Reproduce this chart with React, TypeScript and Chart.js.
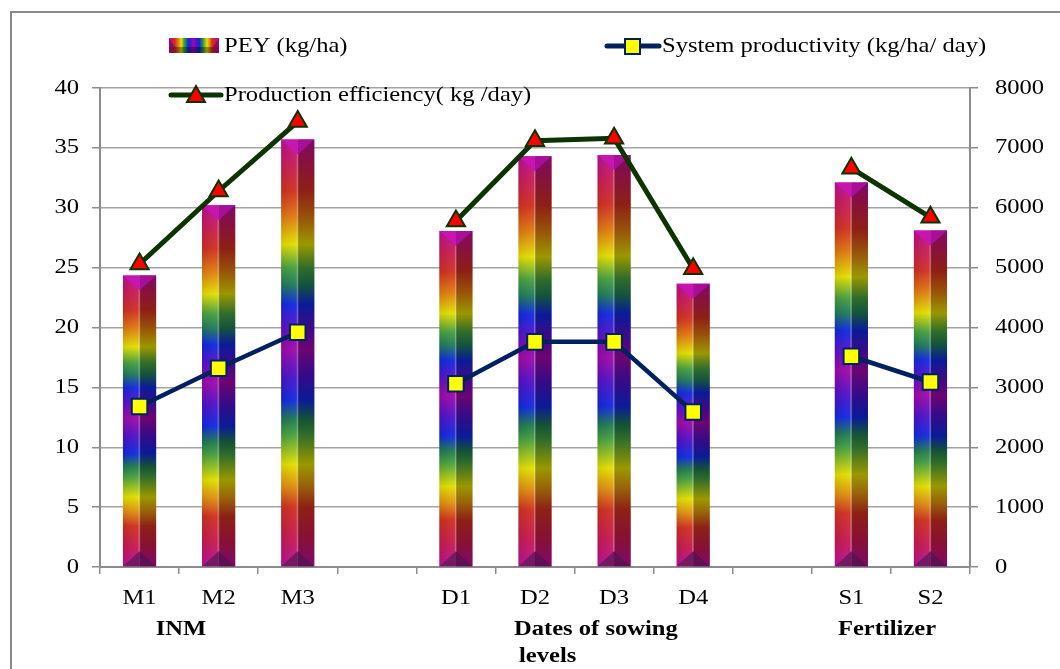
import { useEffect, useRef } from 'react';
import { Chart, registerables } from 'chart.js';

Chart.register(...registerables);

const categories = ['M1', 'M2', 'M3', '', 'D1', 'D2', 'D3', 'D4', '', 'S1', 'S2'];
const peyValues = [4870, 6040, 7140, null, 5610, 6860, 6880, 4730, null, 6420, 5620];
const systemProductivity = [13.4, 16.6, 19.6, null, 15.3, 18.8, 18.8, 12.95, null, 17.6, 15.45];
const productionEfficiency = [25.3, 31.4, 37.2, null, 28.9, 35.6, 35.8, 24.9, null, 33.3, 29.2];
const groupLabels = ['INM', 'Dates of sowing', 'levels', 'Fertilizer'];
const seriesNames = ['PEY (kg/ha)', 'System productivity (kg/ha/ day)', 'Production efficiency( kg /day)'];

const FONT = '"Liberation Serif", "Times New Roman", serif';
const SX = 1.17;

const rainbowStops: [number, string][] = [
  [0.0, '#b8109c'],
  [0.05, '#c81860'],
  [0.12, '#d03020'],
  [0.18, '#e07810'],
  [0.245, '#e4e000'],
  [0.3, '#48a040'],
  [0.34, '#1f7a5c'],
  [0.385, '#1028e0'],
  [0.44, '#5a10c8'],
  [0.49, '#a008a8'],
  [0.55, '#5010c8'],
  [0.61, '#1028e0'],
  [0.655, '#1f7a50'],
  [0.69, '#48a040'],
  [0.76, '#e4e000'],
  [0.81, '#e09010'],
  [0.86, '#d03020'],
  [0.93, '#c81850'],
  [1.0, '#b8109c'],
];

function drawText(
  ctx: CanvasRenderingContext2D,
  text: string,
  x: number,
  y: number,
  align: 'left' | 'right' | 'center',
  font: string
) {
  ctx.save();
  ctx.font = font;
  ctx.textBaseline = 'middle';
  ctx.textAlign = 'left';
  ctx.fillStyle = '#000';
  const w = ctx.measureText(text).width * SX;
  const left = align === 'left' ? x : align === 'right' ? x - w : x - w / 2;
  ctx.translate(left, y);
  ctx.scale(SX, 1);
  ctx.fillText(text, 0, 0);
  ctx.restore();
}

const decor = {
  id: 'decor',
  beforeDraw(chart: any) {
    const ctx: CanvasRenderingContext2D = chart.ctx;
    ctx.save();
    ctx.fillStyle = '#fff';
    ctx.fillRect(0, 0, chart.width, chart.height);
    ctx.strokeStyle = '#8a8a8a';
    ctx.lineWidth = 2;
    ctx.strokeRect(11, 12, 1200, 900);
    ctx.restore();
  },
  afterDatasetDraw(chart: any, args: any) {
    if (args.index !== 0) return;
    const ctx: CanvasRenderingContext2D = chart.ctx;
    ctx.save();
    args.meta.data.forEach((el: any, i: number) => {
      if (peyValues[i] == null) return;
      const { x, y, base, width } = el.getProps(['x', 'y', 'base', 'width'], true);
      const left = x - width / 2;
      const right = x + width / 2;
      const h = base - y;
      ctx.fillStyle = 'rgba(0,0,0,0.32)';
      ctx.fillRect(x, y, width / 2, h);
      const lg = ctx.createLinearGradient(left, 0, x, 0);
      lg.addColorStop(0, 'rgba(0,0,0,0.08)');
      lg.addColorStop(1, 'rgba(255,255,255,0.05)');
      ctx.fillStyle = lg;
      ctx.fillRect(left, y, width / 2, h);
      ctx.fillStyle = 'rgba(255,255,255,0.28)';
      ctx.fillRect(x - 1, y, 1.6, h);
      const hc = width * 0.45;
      ctx.fillStyle = '#c814b0';
      ctx.beginPath();
      ctx.moveTo(left, y);
      ctx.lineTo(x, y);
      ctx.lineTo(x, y + hc);
      ctx.closePath();
      ctx.fill();
      ctx.fillStyle = '#a80f98';
      ctx.beginPath();
      ctx.moveTo(x, y);
      ctx.lineTo(right, y);
      ctx.lineTo(x, y + hc);
      ctx.closePath();
      ctx.fill();
      ctx.fillStyle = '#731a62';
      ctx.beginPath();
      ctx.moveTo(left, base);
      ctx.lineTo(x, base);
      ctx.lineTo(x, base - hc);
      ctx.closePath();
      ctx.fill();
      ctx.fillStyle = '#5e1052';
      ctx.beginPath();
      ctx.moveTo(x, base);
      ctx.lineTo(right, base);
      ctx.lineTo(x, base - hc);
      ctx.closePath();
      ctx.fill();
    });
    ctx.restore();
  },
  afterDraw(chart: any) {
    const ctx: CanvasRenderingContext2D = chart.ctx;
    const f = `21px ${FONT}`;
    const fb = `bold 21px ${FONT}`;
    const ys = chart.scales.y;
    const ys1 = chart.scales.y1;
    const xs = chart.scales.x;
    ys.ticks.forEach((t: any) => drawText(ctx, String(t.value), 79, ys.getPixelForValue(t.value), 'right', f));
    ys1.ticks.forEach((t: any) => drawText(ctx, String(t.value), 995, ys1.getPixelForValue(t.value), 'left', f));
    categories.forEach((c, i) => {
      if (c) drawText(ctx, c, xs.getPixelForTick(i), 598, 'center', f);
    });
    drawText(ctx, groupLabels[0], 181, 630, 'center', fb);
    drawText(ctx, groupLabels[1], 514, 630, 'left', fb);
    drawText(ctx, groupLabels[2], 519, 657, 'left', fb);
    drawText(ctx, groupLabels[3], 887, 630, 'center', fb);

    ctx.save();
    const gx0 = 169, gx1 = 219, gy0 = 38, gy1 = 53;
    const g = ctx.createLinearGradient(gx0, 0, gx1, 0);
    rainbowStops.forEach(([o, c]) => g.addColorStop(o, c));
    ctx.fillStyle = g;
    ctx.fillRect(gx0, gy0, gx1 - gx0, gy1 - gy0);
    ctx.fillStyle = 'rgba(0,0,0,0.35)';
    ctx.fillRect(gx0, gy0 + 9, gx1 - gx0, gy1 - gy0 - 9);
    ctx.fillStyle = 'rgba(120,10,100,0.7)';
    ctx.beginPath();
    ctx.moveTo(gx0, gy0);
    ctx.lineTo(gx0 + 6, gy0 + 9);
    ctx.lineTo(gx0, gy1);
    ctx.closePath();
    ctx.fill();
    ctx.beginPath();
    ctx.moveTo(gx1, gy0);
    ctx.lineTo(gx1 - 6, gy0 + 9);
    ctx.lineTo(gx1, gy1);
    ctx.closePath();
    ctx.fill();
    ctx.restore();
    drawText(ctx, seriesNames[0], 224, 46, 'left', f);

    ctx.save();
    ctx.lineCap = 'round';
    ctx.strokeStyle = '#002060';
    ctx.lineWidth = 5;
    ctx.beginPath();
    ctx.moveTo(607, 46);
    ctx.lineTo(659, 46);
    ctx.stroke();
    ctx.fillStyle = '#ffff00';
    ctx.lineWidth = 2;
    ctx.fillRect(625, 39, 15, 15);
    ctx.strokeRect(625, 39, 15, 15);

    ctx.strokeStyle = '#0d3300';
    ctx.lineWidth = 5;
    ctx.beginPath();
    ctx.moveTo(171, 95);
    ctx.lineTo(221, 95);
    ctx.stroke();
    ctx.fillStyle = '#ff0000';
    ctx.lineWidth = 2;
    ctx.beginPath();
    ctx.moveTo(196, 86);
    ctx.lineTo(205, 102);
    ctx.lineTo(187, 102);
    ctx.closePath();
    ctx.fill();
    ctx.stroke();
    ctx.restore();
    drawText(ctx, seriesNames[1], 662, 46, 'left', f);
    drawText(ctx, seriesNames[2], 224, 95, 'left', f);
  },
};

export default function App() {
  const ref = useRef<HTMLCanvasElement>(null);
  useEffect(() => {
    document.body.style.margin = '0';
    const canvas = ref.current!;
    const chart = new Chart(canvas, {
      type: 'bar',
      data: {
        labels: categories,
        datasets: [
          {
            type: 'bar',
            label: seriesNames[0],
            data: peyValues as any,
            yAxisID: 'y1',
            order: 3,
            barPercentage: 0.42,
            categoryPercentage: 1,
            backgroundColor: (c: any) => {
              const chartArea = c.chart.chartArea;
              if (!chartArea || c.raw == null) return 'rgba(0,0,0,0)';
              const s = c.chart.scales.y1;
              const top = s.getPixelForValue(c.raw);
              const bot = s.getPixelForValue(0);
              const g = c.chart.ctx.createLinearGradient(0, top, 0, bot);
              rainbowStops.forEach(([o, col]) => g.addColorStop(o, col));
              return g;
            },
            borderWidth: 0,
          },
          {
            type: 'line',
            label: seriesNames[1],
            data: systemProductivity as any,
            yAxisID: 'y',
            order: 1,
            borderColor: '#002060',
            borderWidth: 4.5,
            pointStyle: 'rect',
            pointRadius: 11,
            pointBackgroundColor: '#ffff00',
            pointBorderColor: '#002060',
            pointBorderWidth: 2,
            spanGaps: false,
            tension: 0,
          },
          {
            type: 'line',
            label: seriesNames[2],
            data: productionEfficiency as any,
            yAxisID: 'y',
            order: 0,
            borderColor: '#0d3300',
            borderWidth: 5,
            pointStyle: 'triangle',
            pointRadius: 10.5,
            pointBackgroundColor: '#ff0000',
            pointBorderColor: '#0d3300',
            pointBorderWidth: 2,
            spanGaps: false,
            tension: 0,
          },
        ],
      },
      options: {
        responsive: false,
        animation: false,
        layout: { padding: { top: 88, left: 0, right: 0, bottom: 0 } },
        plugins: {
          legend: { display: false },
          tooltip: { enabled: false },
          title: { display: false },
        },
        scales: {
          x: {
            type: 'category',
            offset: true,
            grid: {
              offset: true,
              drawOnChartArea: false,
              drawTicks: true,
              tickLength: 7,
              color: '#8c8c8c',
              lineWidth: 1.5,
            },
            border: { color: '#8c8c8c', width: 2 },
            ticks: { display: false },
            afterFit: (s: any) => {
              s.height = 102;
            },
          },
          y: {
            position: 'left',
            min: 0,
            max: 40,
            ticks: { display: false, stepSize: 5 },
            grid: {
              color: '#a3a3a3',
              lineWidth: 1.5,
              drawTicks: true,
              tickLength: 8,
              tickColor: '#8c8c8c',
            },
            border: { color: '#8c8c8c', width: 2 },
            afterFit: (s: any) => {
              s.width = 100;
            },
          },
          y1: {
            position: 'right',
            min: 0,
            max: 8000,
            ticks: { display: false, stepSize: 1000 },
            grid: {
              drawOnChartArea: false,
              drawTicks: true,
              tickLength: 8,
              color: '#8c8c8c',
              lineWidth: 1.5,
            },
            border: { color: '#8c8c8c', width: 2 },
            afterFit: (s: any) => {
              s.width = 90;
            },
          },
        },
      },
      plugins: [decor],
    });
    return () => chart.destroy();
  }, []);
  return (
    <div style={{ position: 'fixed', left: 0, top: 0, width: 1060, height: 669, background: '#fff' }}>
      <canvas ref={ref} width={1060} height={669} style={{ display: 'block', width: 1060, height: 669 }} />
    </div>
  );
}
